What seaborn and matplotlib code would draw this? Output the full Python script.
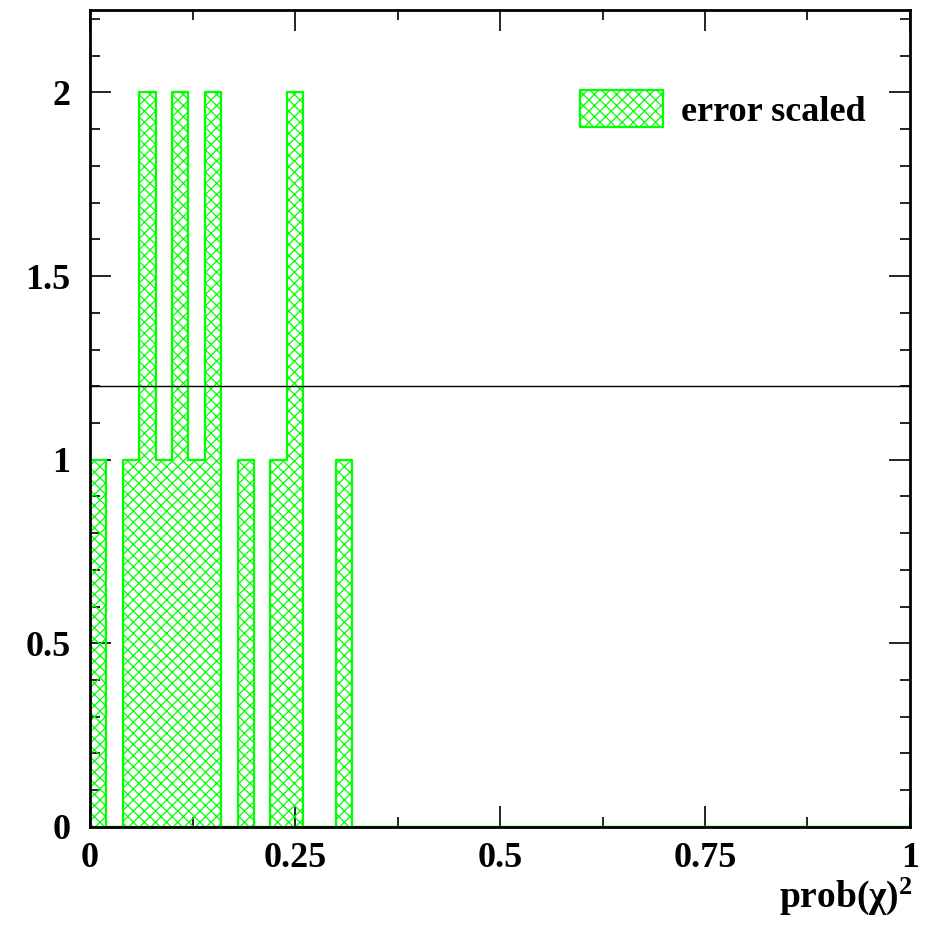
import numpy as np
import pandas as pd
import matplotlib
matplotlib.use("Agg")
import matplotlib.pyplot as plt
from matplotlib.patches import Patch
from matplotlib.ticker import MultipleLocator, FixedLocator
import seaborn as sns

# ---- data ----
n_bins = 50
bin_range = (0.0, 1.0)
bin_edges = np.linspace(bin_range[0], bin_range[1], n_bins + 1)
bin_centers = (bin_edges[:-1] + bin_edges[1:]) / 2
counts = [1, 0, 1, 2, 1, 2, 1, 2, 0, 1,
          0, 1, 2, 0, 0, 1, 0, 0, 0, 0,
          0, 0, 0, 0, 0, 0, 0, 0, 0, 0,
          0, 0, 0, 0, 0, 0, 0, 0, 0, 0,
          0, 0, 0, 0, 0, 0, 0, 0, 0, 0]
ref_line = 1.2
x_ticks = [0, 0.25, 0.5, 0.75, 1]
x_ticklabels = ["0", "0.25", "0.5", "0.75", "1"]
y_ticks = [0, 0.5, 1, 1.5, 2]
y_ticklabels = ["0", "0.5", "1", "1.5", "2"]
legend_label = "error scaled"
x_label = "prob(\u03c7)$^{\\mathbf{2}}$"

df = pd.DataFrame({"x": bin_centers, "w": counts})

sns.set_theme(style="ticks")
plt.rcParams["font.family"] = ["Liberation Serif", "DejaVu Serif"]
plt.rcParams["font.weight"] = "bold"
plt.rcParams["text.color"] = "black"
plt.rcParams["axes.labelcolor"] = "black"
plt.rcParams["xtick.color"] = "black"
plt.rcParams["ytick.color"] = "black"
plt.rcParams["mathtext.fontset"] = "custom"
plt.rcParams["mathtext.rm"] = "Liberation Serif:bold"
plt.rcParams["mathtext.bf"] = "Liberation Serif:bold"
plt.rcParams["mathtext.it"] = "Liberation Serif:bold"
plt.rcParams["hatch.color"] = "#00ff00"
plt.rcParams["hatch.linewidth"] = 0.9

green = "#00ff00"

fig = plt.figure(figsize=(9.28, 9.25), dpi=100)
ax = fig.add_axes([0.097, 0.106, 0.8836, 0.883])

sns.histplot(data=df, x="x", weights="w", bins=n_bins, binrange=bin_range,
             element="step", fill=True, ax=ax, color=green, linewidth=1.6)
for coll in ax.collections:
    coll.set_facecolor("none")
    coll.set_edgecolor(green)
    coll.set_hatch("xxx")
    coll.set_linewidth(1.6)
for ln in ax.lines:
    ln.set_color(green)

ax.axhline(ref_line, color="black", linewidth=1.0)

ax.set_xlim(0, 1)
ax.set_ylim(0, 2.224)

ax.xaxis.set_major_locator(FixedLocator(x_ticks))
ax.set_xticklabels(x_ticklabels)
ax.xaxis.set_minor_locator(MultipleLocator(0.125))
ax.yaxis.set_major_locator(FixedLocator(y_ticks))
ax.set_yticklabels(y_ticklabels)
ax.yaxis.set_minor_locator(MultipleLocator(0.1))

ax.tick_params(which="both", direction="in", top=True, right=True,
               colors="black", labelcolor="black", width=1.2)
ax.tick_params(which="major", length=15)
ax.tick_params(which="minor", length=7.5)
ax.tick_params(axis="x", which="major", pad=11, labelsize=26)
ax.tick_params(axis="y", which="major", pad=14, labelsize=26)
for lab in ax.get_xticklabels() + ax.get_yticklabels():
    lab.set_fontweight("bold")
    lab.set_color("black")

for sp in ax.spines.values():
    sp.set_visible(True)
    sp.set_color("black")
    sp.set_linewidth(2)

ax.set_ylabel("")
ax.set_xlabel(x_label, fontsize=27, fontweight="bold", ha="right", va="top",
              color="black")
ax.xaxis.set_label_coords(1.003, -0.060)

handle = Patch(facecolor="none", edgecolor=green, hatch="xxx", linewidth=1.6,
               label=legend_label)
leg = ax.legend(handles=[handle], loc="upper left",
                bbox_to_anchor=(0.598, 0.902), frameon=False,
                prop={"family": "Liberation Serif", "weight": "bold", "size": 26},
                handlelength=2.3, handleheight=1.2, handletextpad=0.5,
                borderpad=0, borderaxespad=0, labelcolor="black")

fig.savefig("out.png", dpi=100, facecolor="white")
